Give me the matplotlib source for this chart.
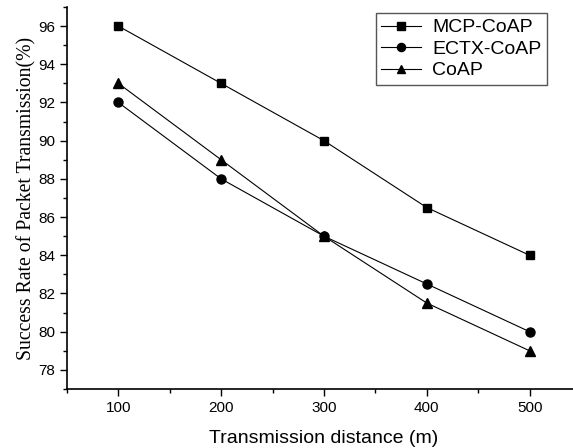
import matplotlib
matplotlib.use("Agg")
import matplotlib.pyplot as plt
from matplotlib.ticker import MultipleLocator

distance = [100, 200, 300, 400, 500]
mcp_coap = [96, 93, 90, 86.5, 84]
ectx_coap = [92, 88, 85, 82.5, 80]
coap = [93, 89, 85, 81.5, 79]

fig = plt.figure(figsize=(5.73, 4.48), dpi=100)
ax = fig.add_axes([67/573, 59/448, 514/573, 382/448])

ax.plot(distance, mcp_coap, color='black', lw=0.8, marker='s', ms=6, label='MCP-CoAP')
ax.plot(distance, ectx_coap, color='black', lw=0.8, marker='o', ms=6.5, label='ECTX-CoAP')
ax.plot(distance, coap, color='black', lw=0.8, marker='^', ms=7, label='CoAP')

ax.set_xlim(50, 550)
ax.set_ylim(77, 97)
ax.xaxis.set_major_locator(MultipleLocator(100))
ax.xaxis.set_minor_locator(MultipleLocator(50))
ax.yaxis.set_major_locator(MultipleLocator(2))
ax.yaxis.set_minor_locator(MultipleLocator(1))
ax.spines['top'].set_visible(False)
ax.spines['right'].set_visible(False)
for s in ['left', 'bottom']:
    ax.spines[s].set_linewidth(1.2)
ax.tick_params(which='major', direction='out', length=5, width=1.0, labelsize=11)
ax.tick_params(which='minor', direction='out', length=3, width=1.0)
for lab in ax.get_xticklabels() + ax.get_yticklabels():
    lab.set_fontfamily('Liberation Sans')

ax.set_xlabel('Transmission distance (m)', fontsize=14, family='Liberation Sans', labelpad=11)
ax.set_ylabel('Success Rate of Packet Transmission(%)', fontsize=14.2, family='Liberation Serif', labelpad=1)

leg = ax.legend(loc='upper right', bbox_to_anchor=((547-67)/514, 1 - 6/382), fancybox=False,
                edgecolor='#555555', framealpha=1, prop={'family': 'Liberation Sans', 'size': 14},
                handlelength=2.05, borderpad=0.3, labelspacing=0.2, handletextpad=0.55,
                borderaxespad=0, markerscale=0.9)
leg.get_frame().set_linewidth(1.0)

fig.savefig('out.png', dpi=100)
